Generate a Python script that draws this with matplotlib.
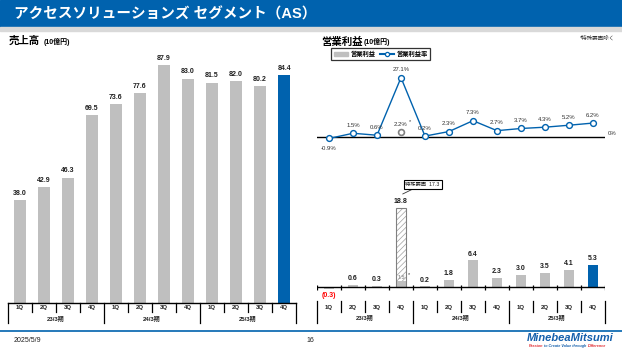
import numpy as np
import matplotlib.pyplot as plt
from matplotlib.lines import Line2D
from matplotlib.patches import Patch, Rectangle

plt.rcParams['font.family'] = ['Liberation Sans', 'Noto Sans CJK JP']
plt.rcParams['hatch.linewidth'] = 0.5

# data
quarters = ['1Q', '2Q', '3Q', '4Q'] * 3
years = ['23/3期', '24/3期', '25/3期']
sales = [38.0, 42.9, 46.3, 69.5, 73.6, 77.6, 87.9, 83.0, 81.5, 82.0, 80.2, 84.4]
op_income = [-0.3, 0.6, 0.3, 18.8, 0.2, 1.8, 6.4, 2.3, 3.0, 3.5, 4.1, 5.3]
op_margin = [-0.9, 1.5, 0.6, 27.1, 0.2, 2.3, 7.3, 2.7, 3.7, 4.3, 5.2, 6.2]
special_item = 17.3   # 特殊要因 (23/3期 4Q)
adj_income = 1.5      # 特殊要因除く
adj_margin = 2.2

BLUE = '#0062AE'
GRAY = '#BFBFBF'
DARK = '#1F1F1F'
W, H = 622, 350

fig = plt.figure(figsize=(W / 100, H / 100), dpi=100)


def box(x0, y0, x1, y1):
    # pixel box (top-left origin) -> figure fraction
    return [x0 / W, 1 - y1 / H, (x1 - x0) / W, (y1 - y0) / H]


def ftext(px, py, s, **kw):
    return fig.text(px / W, 1 - py / H, s, **kw)


# header bar
fig.patches.append(Rectangle((0, 1 - 27 / H), 1, 27 / H, transform=fig.transFigure,
                             color=BLUE, zorder=0))
fig.patches.append(Rectangle((0, 1 - 31 / H), 1, 4 / H, transform=fig.transFigure,
                             color='#D9D9D9', zorder=0))
ftext(14, 14, 'アクセスソリューションズ セグメント（AS）', color='white',
      fontsize=10.5, fontweight='bold', va='center')

ftext(9, 41, '売上高', fontsize=7.5, fontweight='bold', va='center')
ftext(44, 41.5, '(10億円)', fontsize=5, fontweight='bold', va='center')
ftext(321, 41.5, '営業利益', fontsize=7.5, fontweight='bold', va='center')
ftext(364, 42, '(10億円)', fontsize=5, fontweight='bold', va='center')
ftext(615, 38, '*特殊要因除く', fontsize=4, ha='right', va='center', color='#333333')

x = np.arange(len(sales))
colors = [GRAY] * (len(x) - 1) + [BLUE]
bounds = np.arange(-0.5, len(x), 1)


def draw_table(ax, top, q_bottom, y_bottom, q_y, y_y, hline):
    ax.set_xlim(-0.5, 11.5)
    ax.set_ylim(y_bottom, top)
    ax.axis('off')
    if hline:
        ax.plot([-0.5, 11.5], [top, top], color='black', lw=1, clip_on=False)
    for b in bounds:
        is_year = (b + 0.5) % 4 == 0
        ax.plot([b, b], [top, y_bottom if is_year else q_bottom], color='black',
                lw=0.9, clip_on=False)
    for xi, q in zip(x, quarters):
        ax.text(xi, q_y, q, ha='center', va='center', fontsize=4.3,
                fontweight='bold', color=DARK)
    for i, yl in enumerate(years):
        ax.text(4 * i + 1.5, y_y, yl, ha='center', va='center', fontsize=4.3,
                fontweight='bold', color=DARK)


# ---- left: sales
ax1 = fig.add_axes(box(8, 55, 296, 302.7))
ax1.bar(x, sales, width=0.52, color=colors)
for xi, v in zip(x, sales):
    ax1.annotate(f'{v:.1f}', (xi, v), xytext=(0, 4.8), textcoords='offset points',
                 ha='center', va='center', fontsize=5, fontweight='bold', color=DARK)
ax1.set_xlim(-0.5, 11.5)
ax1.set_ylim(0, 91.7)
ax1.axis('off')

axt1 = fig.add_axes(box(8, 302.7, 296, 322.7))
draw_table(axt1, 302.7, 311.7, 322.7, 307.6, 318.6, True)

# ---- right top: operating margin
ax2 = fig.add_axes(box(317, 62, 605, 150))
ax2.set_xlim(-0.5, 11.5)
ax2.set_ylim(-6.2, 34.3)
ax2.axis('off')
ax2.axhline(0, color='black', lw=1)
ax2.plot(x, op_margin, color=BLUE, lw=1, marker='o', ms=4.2, mfc='white',
         mec=BLUE, mew=1, zorder=3)
ax2.plot([3], [adj_margin], marker='o', ms=4.2, mfc='white', mec='#808080',
         mew=1.2, ls='none', zorder=3)
for xi, v in zip(x, op_margin):
    off = -6.9 if v < 0 else 5.8
    ax2.annotate(f'{v:.1f}%', (xi, v), xytext=(0, off), textcoords='offset points',
                 ha='center', va='center', fontsize=4.3, color='#333333')
ax2.annotate(f'{adj_margin:.1f}%', (3, adj_margin), xytext=(0, 5.3),
             textcoords='offset points', ha='center', va='center', fontsize=4.3,
             color='#333333')
ax2.annotate('*', (3, adj_margin), xytext=(6.2, 7.0), textcoords='offset points',
             ha='center', va='center', fontsize=4, color='#333333')
ftext(612, 134, '0%', fontsize=4.3, ha='center', va='center', color='#333333')

handles = [Patch(color=GRAY),
           Line2D([], [], color=BLUE, lw=1.5, marker='o', ms=3, mfc='white', mec=BLUE, mew=0.9)]
leg = fig.legend(handles, ['営業利益', '営業利益率'], loc='upper left',
                 bbox_to_anchor=(331 / W, 1 - 48 / H), ncol=2, frameon=True,
                 fancybox=False, edgecolor='black', borderaxespad=0,
                 prop={'size': 4.5, 'weight': 'bold'}, handlelength=2.2,
                 handleheight=0.5, columnspacing=0.8, handletextpad=0.4, borderpad=0.45)
leg.get_frame().set_linewidth(0.9)

# ---- right bottom: operating income
ax3 = fig.add_axes(box(317, 175, 605, 296))
ax3.set_xlim(-0.5, 11.5)
ax3.set_ylim(-2.06, 26.6)
ax3.axis('off')
base = list(op_income)
base[3] = adj_income
ax3.bar(x, base, width=0.45, color=colors, zorder=2)
ax3.bar(3, special_item, bottom=adj_income, width=0.45, facecolor='white',
        edgecolor='#A0A0A0', hatch='//////', lw=0, zorder=2)
ax3.bar(3, op_income[3], width=0.45, fill=False, edgecolor='#808080', lw=0.8, zorder=3)
ax3.axhline(0, color='black', lw=1, zorder=4)
ax3.vlines(bounds, -0.6, 0.6, color='black', lw=0.9, zorder=4)
for xi, v in zip(x, op_income):
    if v < 0:
        ax3.annotate(f'({abs(v):.1f})', (xi, v), xytext=(0, -5.3), textcoords='offset points',
                     ha='center', va='center', fontsize=5, fontweight='bold', color='#FF0000')
    else:
        ax3.annotate(f'{v:.1f}', (xi, v), xytext=(0, 4.5), textcoords='offset points',
                     ha='center', va='center', fontsize=5, fontweight='bold', color=DARK)
ax3.text(3, 2.4, f'{adj_income:.1f}', ha='center', va='center', fontsize=4,
         fontweight='bold', color='#9A9A9A', zorder=5)
ax3.text(3.33, 3.1, '*', ha='center', va='center', fontsize=4, color='#333333')
ax3.annotate(f'特殊要因  {special_item:.1f}', xy=(3.07, 22.1), xytext=(3.9, 24.4),
             ha='center', va='center', fontsize=3.8, color=DARK,
             bbox=dict(boxstyle='square,pad=0.35', fc='white', ec='black', lw=0.8),
             arrowprops=dict(arrowstyle='-', lw=0.6, color='#333333', shrinkA=0, shrinkB=0))

axt3 = fig.add_axes(box(317, 300.7, 605, 322.7))
draw_table(axt3, 300.7, 312, 322.7, 307.7, 317.7, False)

# ---- footer
fig.add_artist(Line2D([0, 1], [1 - 331 / H] * 2, transform=fig.transFigure, color=BLUE, lw=1.2))
ftext(14, 340.5, '2025/5/9', fontsize=5, va='center', color=DARK)
ftext(310, 340.5, '16', fontsize=5, ha='center', va='center', color=DARK)
ftext(614, 338, 'MinebeaMitsumi', fontsize=8, fontweight='bold', style='italic',
      ha='right', va='center', color='#1560AC')

fig.canvas.draw()
r = fig.canvas.get_renderer()
xpos = 529
for s, c in [('Passion', '#E0282E'), (' to Create Value through ', '#1560AC'),
             ('Difference', '#E0282E')]:
    t = ftext(xpos, 346, s, fontsize=2.7, fontweight='bold', style='italic',
              va='center', color=c)
    xpos += t.get_window_extent(r).width

fig.savefig('out.png', dpi=100)
